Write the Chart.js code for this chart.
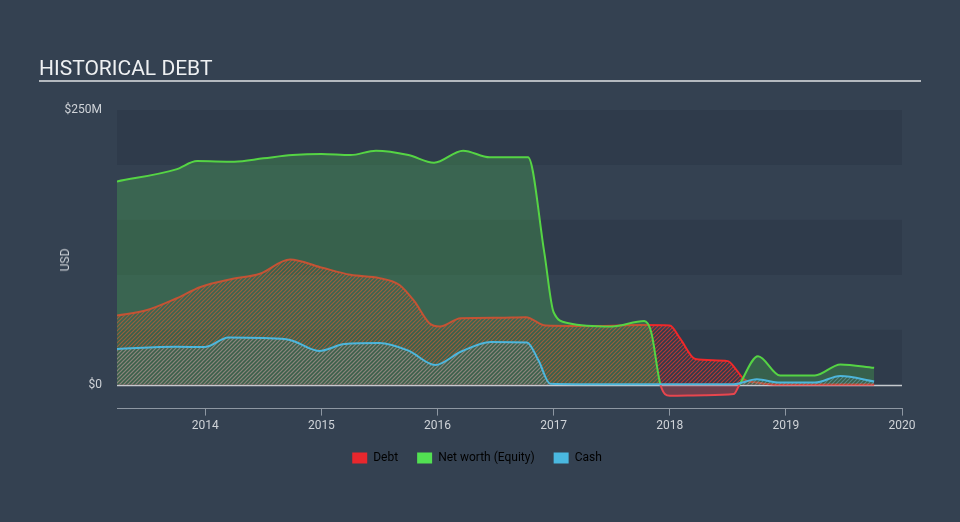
<!DOCTYPE html>
<html>
<head>
<meta charset="utf-8">
<script src="https://cdn.jsdelivr.net/npm/chart.js"></script>
<style>
  html, body { margin: 0; padding: 0; background: #344151; }
  #wrap { position: relative; width: 960px; height: 522px; overflow: hidden; font-family: Roboto, "Open Sans", sans-serif; }
  #title { position: absolute; left: 39px; top: 56px; color: #eef0f2; font-size: 21px; letter-spacing: 0px; }
  #rule { position: absolute; left: 39px; top: 80px; width: 882px; height: 2px; background: #b4b9bf; }
  #ylab { position: absolute; left: 65px; top: 260px; color: #cfd3d8; font-size: 12px; transform: translate(-50%, -50%) rotate(-90deg); }
  canvas { position: absolute; left: 0; top: 0; }
</style>
</head>
<body>
<div id="wrap">
  <canvas id="debtChart" width="960" height="522"></canvas>
  <div id="title">HISTORICAL DEBT</div>
  <div id="rule"></div>
  <div id="ylab">USD</div>
</div>
<script>
// values in millions USD, dates as decimal years
const debtDates = [2013.24, 2013.5, 2013.74, 2013.96, 2014.22, 2014.47, 2014.73, 2014.99, 2015.25, 2015.5, 2015.67, 2015.8, 2015.93, 2016.02, 2016.2, 2016.53, 2016.76, 2016.93, 2017.4, 2017.75, 2018.0, 2018.09, 2018.22, 2018.5, 2018.57, 2018.64, 2018.75, 2018.9, 2019.76];
const debtValues = [63, 68, 78, 89, 96, 101, 114, 107, 100, 97, 91, 76, 56, 53, 60.5, 61, 61.5, 54, 53.5, 54.3, 54, 42, 23.5, 21.5, 14, 5, 2, 0.3, 0.3];

const equityDates = [2013.24, 2013.75, 2013.93, 2014.25, 2014.5, 2014.75, 2015.0, 2015.25, 2015.47, 2015.75, 2015.97, 2016.22, 2016.45, 2016.78, 2016.92, 2017.0, 2017.13, 2017.5, 2017.78, 2017.84, 2017.92, 2018.0, 2018.3, 2018.55, 2018.6, 2018.76, 2018.95, 2019.25, 2019.47, 2019.76];
const equityValues = [185, 196, 203.5, 203, 206, 209, 210, 209, 213, 209, 202, 213, 207, 207, 120, 66, 56, 53, 58, 48, 0, -10, -9.5, -8.5, 0, 26, 8.5, 8.5, 18.5, 15.4];

const cashDates = [2013.24, 2013.75, 2014.0, 2014.2, 2014.5, 2014.73, 2014.98, 2015.2, 2015.5, 2015.75, 2015.98, 2016.2, 2016.46, 2016.77, 2016.87, 2016.97, 2017.5, 2018.0, 2018.55, 2018.75, 2018.95, 2019.25, 2019.47, 2019.76];
const cashValues = [32.6, 34.5, 34.4, 43, 42.5, 40.8, 30.8, 37, 38, 31, 18, 30, 39, 38.5, 22, 1, 0.5, 0.5, 0.5, 5, 2, 2, 8, 3];

const yTicks = [0, 250];
const xTicks = [2014, 2015, 2016, 2017, 2018, 2019, 2020];
const seriesNames = ['Debt', 'Net worth (Equity)', 'Cash'];
const legendColors = ['#e8272d', '#52e052', '#4ab8e0'];

function toPoints(dates, values) {
  return dates.map((d, i) => ({ x: d, y: values[i] }));
}

function hatch(color) {
  const c = document.createElement('canvas');
  c.width = 4; c.height = 4;
  const g = c.getContext('2d');
  g.strokeStyle = color;
  g.lineWidth = 1.2;
  g.beginPath();
  g.moveTo(0, 4); g.lineTo(4, 0);
  g.moveTo(-1, 1); g.lineTo(1, -1);
  g.moveTo(3, 5); g.lineTo(5, 3);
  g.stroke();
  return g.createPattern(c, 'repeat');
}

const bandsPlugin = {
  id: 'bands',
  afterLayout(chart) {
    // legend is centred on the whole page in the original, not on the plot
    if (chart.legend) {
      chart.legend.left += 26;
      chart.legend.right += 26;
      chart.legend.top -= 3;
      chart.legend.bottom -= 3;
    }
  },
  beforeDatasetsDraw(chart) {
    const { ctx, chartArea, scales } = chart;
    const y = scales.y;
    ctx.save();
    for (let v = 0; v < 250; v += 50) {
      const top = y.getPixelForValue(v + 50);
      const bot = y.getPixelForValue(v);
      ctx.fillStyle = (v / 50) % 2 === 0 ? '#2f3b4b' : '#344151';
      ctx.fillRect(chartArea.left, top, chartArea.right - chartArea.left, bot - top);
    }
    ctx.strokeStyle = '#c5c9ce';
    ctx.lineWidth = 1.5;
    const z = Math.round(y.getPixelForValue(0)) + 0.5;
    ctx.beginPath();
    ctx.moveTo(chartArea.left, z);
    ctx.lineTo(chartArea.right, z);
    ctx.stroke();
    ctx.restore();
  }
};

new Chart(document.getElementById('debtChart'), {
  type: 'line',
  data: {
    datasets: [{
      label: seriesNames[0],
      data: toPoints(debtDates, debtValues),
      borderColor: '#f0282a',
      borderWidth: 2,
      backgroundColor: hatch('rgba(225,55,45,0.75)'),
      fill: 'origin',
      pointRadius: 0,
      cubicInterpolationMode: 'monotone',
      order: 2
    }, {
      label: seriesNames[1],
      data: toPoints(equityDates, equityValues),
      borderColor: '#55d444',
      borderWidth: 2,
      fill: { target: 'origin', above: 'rgba(78,200,80,0.27)', below: 'rgba(220,60,75,0.35)' },
      segment: {
        borderColor: c => (c.p0.parsed.y < 0 || c.p1.parsed.y < 0) ? '#e8464e' : '#55d444'
      },
      pointRadius: 0,
      cubicInterpolationMode: 'monotone',
      order: 1
    }, {
      label: seriesNames[2],
      data: toPoints(cashDates, cashValues),
      borderColor: '#4db6dc',
      borderWidth: 2,
      backgroundColor: hatch('rgba(120,175,195,0.5)'),
      fill: 'origin',
      pointRadius: 0,
      cubicInterpolationMode: 'monotone',
      order: 0
    }]
  },
  options: {
    responsive: false,
    animation: false,
    layout: { padding: { left: 0, right: 58, top: 110, bottom: 45 } },
    scales: {
      x: {
        type: 'linear',
        min: 2013.24,
        max: 2020,
        afterBuildTicks: axis => { axis.ticks = xTicks.map(v => ({ value: v })); },
        ticks: { color: '#cfd3d8', font: { family: 'Roboto', size: 12 }, padding: 3, maxRotation: 0, callback: v => String(v) },
        grid: { drawOnChartArea: false, drawTicks: true, tickLength: 7, color: '#8e97a2' },
        border: { color: '#8e97a2', width: 1 }
      },
      y: {
        min: -21.7,
        max: 250,
        afterBuildTicks: axis => { axis.ticks = yTicks.map(v => ({ value: v })); },
        afterFit: axis => { axis.width = 117; },
        ticks: { color: '#cfd3d8', font: { family: 'Roboto', size: 12 }, padding: 15, callback: v => v === 0 ? '$0' : '$' + v + 'M' },
        grid: { display: false, drawTicks: false },
        border: { display: false }
      }
    },
    plugins: {
      legend: {
        position: 'bottom',
        labels: {
          color: '#dfe2e6',
          font: { family: 'Roboto', size: 12 },
          boxWidth: 15,
          boxHeight: 11,
          padding: 19,
          generateLabels: () => seriesNames.map((n, i) => ({
            text: n, fillStyle: legendColors[i], strokeStyle: legendColors[i], lineWidth: 0, datasetIndex: i
          }))
        }
      },
      tooltip: { enabled: false }
    }
  },
  plugins: [bandsPlugin]
});
</script>
</body>
</html>
